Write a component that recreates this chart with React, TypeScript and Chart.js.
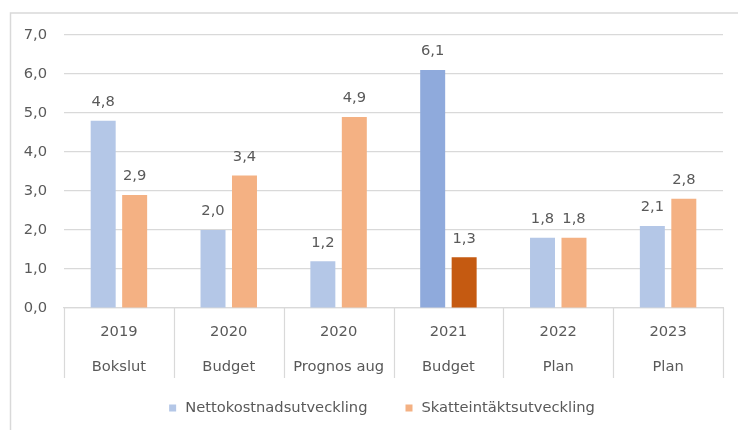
import React, { useEffect, useRef } from "react";
import { Chart, registerables } from "chart.js";

Chart.register(...registerables);

const categories: string[][] = [
  ["2019", "Bokslut"],
  ["2020", "Budget"],
  ["2020", "Prognos aug"],
  ["2021", "Budget"],
  ["2022", "Plan"],
  ["2023", "Plan"],
];
const seriesNames = ["Nettokostnadsutveckling", "Skatteintäktsutveckling"];
const nettokostnad = [4.8, 2.0, 1.2, 6.1, 1.8, 2.1];
const skatteintakt = [2.9, 3.4, 4.9, 1.3, 1.8, 2.8];
const blueColors = ["#B4C7E7", "#B4C7E7", "#B4C7E7", "#8FAADC", "#B4C7E7", "#B4C7E7"];
const orangeColors = ["#F4B183", "#F4B183", "#F4B183", "#C55A11", "#F4B183", "#F4B183"];
const yMin = 0;
const yMax = 7;
const yStep = 1;

const FONT = "'DejaVu Sans', sans-serif";
const FONT_SIZE = 14.7;
const TEXT_COLOR = "#595959";
const GRID_COLOR = "#d9d9d9";

const fmt = (v: number) => v.toFixed(1).replace(".", ",");

const framePlugin = {
  id: "frame",
  beforeDraw(chart: any) {
    const ctx = chart.ctx;
    ctx.save();
    ctx.fillStyle = "#ffffff";
    ctx.fillRect(0, 0, chart.width, chart.height);
    ctx.strokeStyle = GRID_COLOR;
    ctx.lineWidth = 1.5;
    ctx.beginPath();
    ctx.moveTo(10.5, chart.height);
    ctx.lineTo(10.5, 13);
    ctx.lineTo(chart.width, 13);
    ctx.stroke();
    ctx.restore();
  },
};

const separatorsPlugin = {
  id: "separators",
  afterDraw(chart: any) {
    const ctx = chart.ctx;
    const x = chart.scales.x;
    const area = chart.chartArea;
    ctx.save();
    ctx.strokeStyle = GRID_COLOR;
    ctx.lineWidth = 1.2;
    ctx.beginPath();
    for (let i = 0; i <= categories.length; i++) {
      const px = Math.round(x.getPixelForValue(i - 0.5)) + 0.5;
      ctx.moveTo(px, area.bottom);
      ctx.lineTo(px, area.bottom + 70);
    }
    ctx.stroke();
    ctx.restore();
  },
};

const dataLabelsPlugin = {
  id: "dataLabels",
  afterDatasetsDraw(chart: any) {
    const ctx = chart.ctx;
    ctx.save();
    ctx.font = `${FONT_SIZE}px ${FONT}`;
    ctx.fillStyle = TEXT_COLOR;
    ctx.textAlign = "center";
    ctx.textBaseline = "middle";
    chart.data.datasets.forEach((ds: any, di: number) => {
      const meta = chart.getDatasetMeta(di);
      meta.data.forEach((bar: any, i: number) => {
        ctx.fillText(fmt(ds.data[i]), bar.x, bar.y - 18.5);
      });
    });
    ctx.restore();
  },
};

const legendPlugin = {
  id: "customLegend",
  afterDraw(chart: any) {
    const ctx = chart.ctx;
    const area = chart.chartArea;
    const box = 7;
    const textGap = 9;
    const itemGap = 38;
    const cy = area.bottom + 100;
    ctx.save();
    ctx.font = `${FONT_SIZE}px ${FONT}`;
    ctx.textBaseline = "middle";
    ctx.textAlign = "left";
    const items = chart.data.datasets.map((ds: any) => ({
      label: ds.label,
      color: Array.isArray(ds.backgroundColor) ? ds.backgroundColor[0] : ds.backgroundColor,
      w: ctx.measureText(ds.label).width,
    }));
    const total =
      items.reduce((s: number, it: any) => s + box + textGap + it.w, 0) + itemGap * (items.length - 1);
    const center = (area.left + area.right) / 2 - 11.5;
    let x = center - total / 2;
    items.forEach((it: any) => {
      ctx.fillStyle = it.color;
      ctx.fillRect(x, cy - box / 2, box, box);
      ctx.fillStyle = TEXT_COLOR;
      ctx.fillText(it.label, x + box + textGap, cy);
      x += box + textGap + it.w + itemGap;
    });
    ctx.restore();
  },
};

export default function App() {
  const ref = useRef<HTMLCanvasElement | null>(null);
  useEffect(() => {
    if (!ref.current) return;
    const chart = new Chart(ref.current, {
      type: "bar",
      data: {
        labels: categories,
        datasets: [
          {
            label: seriesNames[0],
            data: nettokostnad,
            backgroundColor: blueColors,
            categoryPercentage: 0.573,
            barPercentage: 0.794,
          },
          {
            label: seriesNames[1],
            data: skatteintakt,
            backgroundColor: orangeColors,
            categoryPercentage: 0.573,
            barPercentage: 0.794,
          },
        ],
      },
      options: {
        animation: false,
        responsive: false,
        layout: { padding: { left: 0, right: 15, top: 35, bottom: 42 } },
        plugins: {
          legend: { display: false },
          tooltip: { enabled: false },
        },
        scales: {
          x: {
            grid: { display: false, drawTicks: false },
            border: { display: true, color: GRID_COLOR, width: 1.2 },
            ticks: {
              color: TEXT_COLOR,
              font: { family: FONT, size: FONT_SIZE, lineHeight: 35 / FONT_SIZE },
              padding: 6.5,
              maxRotation: 0,
              autoSkip: false,
            },
            afterFit(scale: any) {
              scale.height = 80;
            },
          },
          y: {
            min: yMin,
            max: yMax,
            grid: { color: GRID_COLOR, lineWidth: 1.2, drawTicks: false },
            border: { display: false },
            ticks: {
              stepSize: yStep,
              color: TEXT_COLOR,
              font: { family: FONT, size: FONT_SIZE },
              padding: 17,
              callback: (v: any) => fmt(Number(v)),
            },
            afterFit(scale: any) {
              scale.width = 64;
            },
          },
        },
      },
      plugins: [framePlugin, separatorsPlugin, dataLabelsPlugin, legendPlugin],
    } as any);
    return () => chart.destroy();
  }, []);
  return (
    <div style={{ position: "fixed", left: 0, top: 0, width: 738, height: 430 }}>
      <canvas ref={ref} width={738} height={430} style={{ display: "block" }} />
    </div>
  );
}
